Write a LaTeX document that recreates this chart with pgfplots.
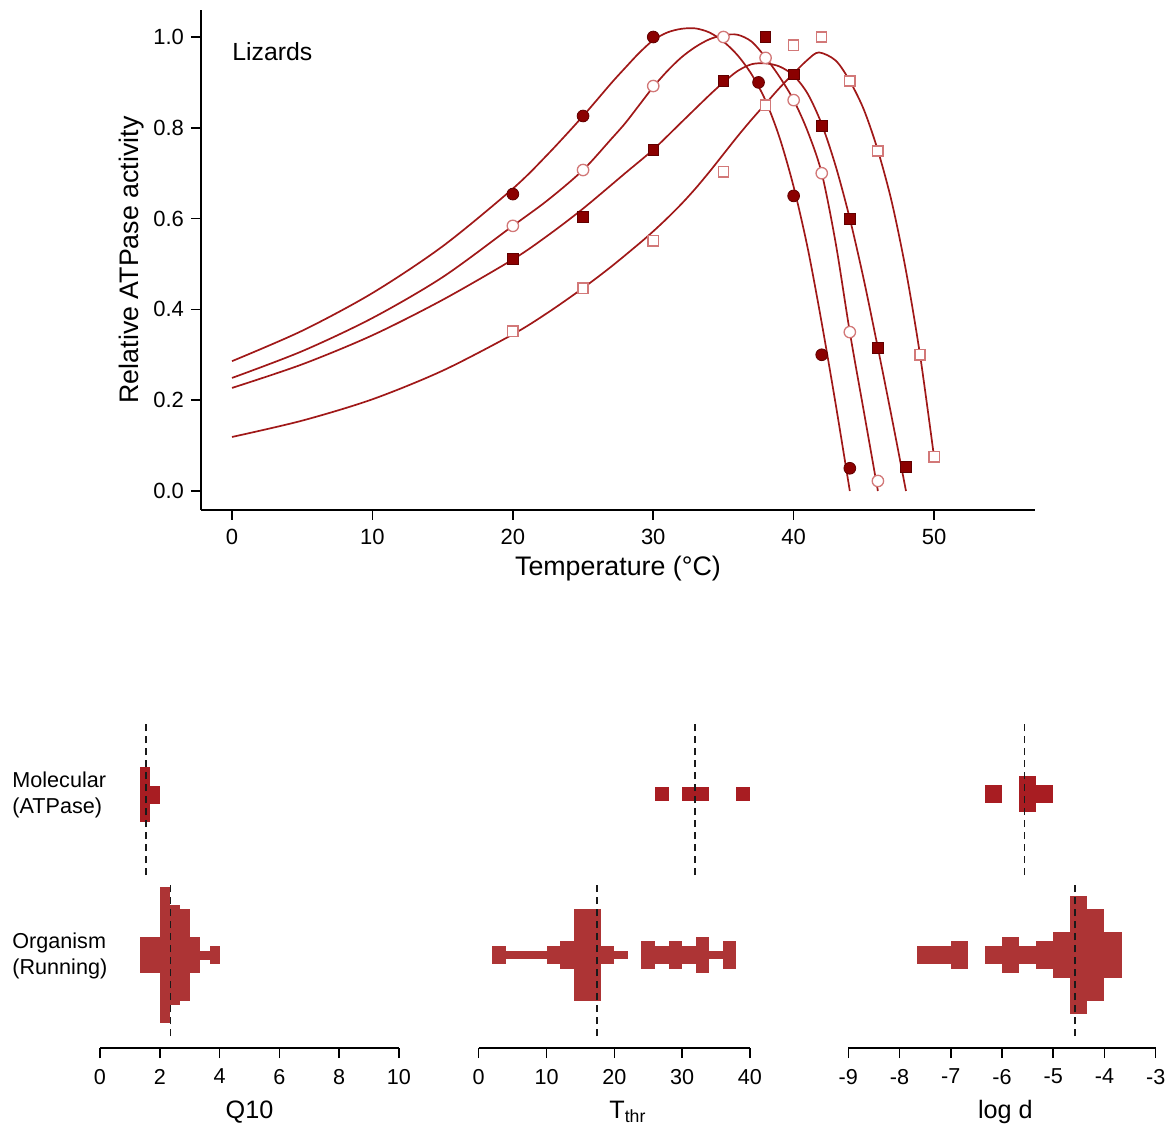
\documentclass[border=0pt]{standalone}
\usepackage{fontspec}
\setmainfont{Liberation Sans}
\usepackage{pgfplots}
\pgfplotsset{compat=1.18}

\definecolor{dred}{HTML}{8B0000}
\definecolor{lred}{HTML}{D27878}
\definecolor{cline}{HTML}{A01818}
\definecolor{molc}{HTML}{A81D22}
\definecolor{orgc}{HTML}{AD3435}
\definecolor{dashc}{HTML}{1A1A1A}

\pgfplotsset{
  rstyle/.style={
    scale only axis, clip=false,
    tick style={black, line width=0.75pt},
    major tick length=5pt,
    /pgf/number format/assume math mode=true,
  },
  noarrows/.style={
    axis line style={line width=0.75pt},
    every outer x axis line/.append style={-},
    every outer y axis line/.append style={-},
    tick align=outside,
  },
  bot/.style={
    rstyle, height=165pt, ymin=0, ymax=330,
    axis x line=bottom, axis y line=none, noarrows,
    xtick align=outside,
    ticklabel style={font=\fontsize{10.8}{13}\selectfont},
    xticklabel style={yshift=-2pt},
    xlabel style={at={(axis description cs:#1,-0.194)}, anchor=center,
      font=\fontsize{12.6}{15}\selectfont},
  },
  hbar/.style 2 args={draw=none, mark=none,
    error bars/.cd, y dir=both, y explicit, error mark=none,
    error bar style={draw=#1, line width=#2}},
  dline/.style={dashc, line width=0.85pt, dash pattern=on 3.5pt off 2.5pt},
}

\begin{document}
\begin{tikzpicture}
\path[use as bounding box] (0,0) rectangle (587pt,-564pt);

% ---- top: ATPase activity vs temperature
\begin{axis}[rstyle,
  at={(100.5pt,-255pt)}, anchor=south west, width=417pt, height=250pt,
  xmin=-2.21, xmax=57.19, ymin=-0.0419, ymax=1.0595,
  axis lines=left, noarrows,
  xtick={0,10,20,30,40,50}, ytick={0,0.2,0.4,0.6,0.8,1.0},
  ticklabel style={font=\fontsize{11}{13}\selectfont},
  xticklabel style={yshift=-1pt},
  yticklabel style={/pgf/number format/.cd, fixed, fixed zerofill, precision=1},
  xlabel={Temperature (°C)}, ylabel={Relative ATPase activity},
  xlabel style={at={(axis description cs:0.5,-0.118)}, anchor=center,
    font=\fontsize{13.4}{16}\selectfont},
  ylabel style={at={(axis description cs:-0.0827,0.5)}, anchor=center,
    font=\fontsize{13.4}{16}\selectfont},
]
\addplot[cline, line width=0.85pt, smooth] coordinates {
 (0,0.286) (5,0.353) (10,0.436) (15,0.539) (20,0.666) (22.5,0.742) (25,0.826)
 (27,0.898) (28,0.932) (29,0.965) (30,0.993) (31,1.010) (32,1.018) (33,1.019)
 (34,1.010) (35,0.990) (36,0.960) (37,0.918) (38,0.860) (39,0.778) (40,0.670)
 (41,0.535) (42,0.370) (43,0.190) (44,0.0)};
\addplot[cline, line width=0.85pt, smooth] coordinates {
 (0,0.249) (5,0.308) (10,0.381) (15,0.471) (20,0.584) (22.5,0.641) (25,0.707)
 (27,0.775) (28,0.810) (29,0.850) (30,0.890) (31,0.925) (32,0.955) (33,0.978)
 (34,0.995) (35,1.004) (36,1.005) (37,0.990) (38,0.955) (39,0.912) (40,0.861)
 (41,0.792) (42,0.700) (43,0.545) (44,0.350) (45,0.175) (46,0.0)};
\addplot[cline, line width=0.85pt, smooth] coordinates {
 (0,0.227) (5,0.279) (10,0.343) (15,0.421) (20,0.510) (22.5,0.563) (25,0.622)
 (28,0.700) (30,0.752) (32,0.812) (34,0.872) (35,0.900) (36,0.925) (37,0.940)
 (38,0.942) (39,0.935) (40,0.915) (41,0.875) (42,0.808) (43,0.715) (44,0.600)
 (45,0.465) (46,0.315) (47,0.160) (48,0.0)};
\addplot[cline, line width=0.85pt, smooth] coordinates {
 (0,0.119) (5,0.155) (10,0.202) (15,0.265) (20,0.345) (22.5,0.393) (25,0.447)
 (27,0.494) (29,0.545) (30,0.572) (31,0.601) (32,0.632) (33,0.666) (34,0.703)
 (35,0.742) (36,0.781) (37,0.818) (38,0.853) (39,0.888) (40,0.920) (41,0.950)
 (41.8,0.966) (43,0.948) (44,0.903) (45,0.840) (46,0.750) (47,0.635)
 (48,0.485) (49,0.300) (50,0.075)};

\addplot[only marks, mark=*, mark size=2.95pt,
  mark options={fill=dred, draw=dred!70!black, line width=0.4pt}] coordinates {
 (20,0.654) (25,0.826) (30,1.0) (37.5,0.90) (40,0.65) (42,0.30) (44,0.05)};
\addplot[only marks, mark=*, mark size=2.85pt,
  mark options={fill=white, draw=lred, line width=0.65pt}] coordinates {
 (20,0.584) (25,0.707) (30,0.892) (35,1.0) (38,0.954) (40,0.861) (42,0.70)
 (44,0.35) (46,0.022)};
\addplot[only marks, mark=square*, mark size=2.65pt,
  mark options={fill=dred, draw=dred!70!black, line width=0.4pt}] coordinates {
 (20,0.511) (25,0.604) (30,0.751) (35,0.903) (38,1.0) (40,0.918) (42,0.804)
 (44,0.599) (46,0.315) (48,0.053)};
\addplot[only marks, mark=square*, mark size=2.55pt,
  mark options={fill=white, draw=lred, line width=0.65pt}] coordinates {
 (20,0.352) (25,0.447) (30,0.551) (35,0.703) (38,0.850) (40,0.982) (42,1.0)
 (44,0.903) (46,0.749) (49,0.30) (50,0.075)};

\node[anchor=west, inner sep=0pt, font=\fontsize{12.4}{15}\selectfont]
  at (axis cs:0,0.967) {Lizards};
\end{axis}

% ---- bottom: Q10
\begin{axis}[bot=0.5, at={(50pt,-524pt)}, anchor=south west, width=149.5pt,
  xmin=0, xmax=10, xtick={0,2,4,6,8,10}, xlabel={Q10}]
\addplot[hbar={molc}{4.98pt}] table[x=x, y=y, y error=e] {
x y e
1.5 253.5 27.5
1.833 253.5 9
};
\addplot[hbar={orgc}{4.98pt}] table[x=x, y=y, y error=e] {
x y e
1.5 93 18
1.833 93 18
2.167 93 68
2.5 93 50
2.833 93 46
3.167 93 18
3.5 93 4.5
3.833 93 9
};
\addplot[dline] coordinates {(1.54,173) (1.54,327)};
\addplot[dline] coordinates {(2.36,12) (2.36,166)};
\end{axis}

% ---- bottom: T_thr
\begin{axis}[bot=0.55, at={(239.35pt,-524pt)}, anchor=south west, width=135.65pt,
  xmin=0, xmax=40, xtick={0,10,20,30,40}, xlabel={T\textsubscript{thr}}]
\addplot[hbar={molc}{6.78pt}] table[x=x, y=y, y error=e] {
x y e
27 254 7.3
31 254 7.3
33 254 7.3
39 254 7.3
};
\addplot[hbar={orgc}{6.78pt}] table[x=x, y=y, y error=e] {
x y e
3 93 9
5 93 4.3
7 93 4.3
9 93 4.3
11 93 9
13 93 13.7
15 93 45.7
17 93 45.7
19 93 9
21 93 4.3
25 93 13.7
27 93 9
29 93 13.7
31 93 9
33 93 18
35 93 4.3
37 93 13.7
};
\addplot[dline] coordinates {(31.9,173) (31.9,327)};
\addplot[dline] coordinates {(17.4,12) (17.4,166)};
\end{axis}

% ---- bottom: log d
\begin{axis}[bot=0.511, at={(424.15pt,-524pt)}, anchor=south west, width=153.7pt,
  xmin=-9, xmax=-3, xtick={-9,-8,-7,-6,-5,-4,-3}, xlabel={log d}]
\addplot[hbar={molc}{8.54pt}] table[x=x, y=y, y error=e] {
x y e
-6.167 253.7 9
-5.5 253.7 18
-5.167 253.7 9
};
\addplot[hbar={orgc}{8.54pt}] table[x=x, y=y, y error=e] {
x y e
-7.5 93 9
-7.167 93 9
-6.833 93 13.7
-6.167 93 9
-5.833 93 18
-5.5 93 9
-5.167 93 13.7
-4.833 93 22.7
-4.5 93 59
-4.167 93 45.7
-3.833 93 22.7
};
\addplot[dline] coordinates {(-5.56,173) (-5.56,327)};
\addplot[dline] coordinates {(-4.58,12) (-4.58,166)};
\end{axis}

\node[anchor=west, align=left, inner sep=0pt, font=\fontsize{10.8}{13}\selectfont]
  at (6pt,-397.5pt) {Molecular\\(ATPase)};
\node[anchor=west, align=left, inner sep=0pt, font=\fontsize{10.8}{13}\selectfont]
  at (6pt,-478pt) {Organism\\(Running)};
\end{tikzpicture}
\end{document}
